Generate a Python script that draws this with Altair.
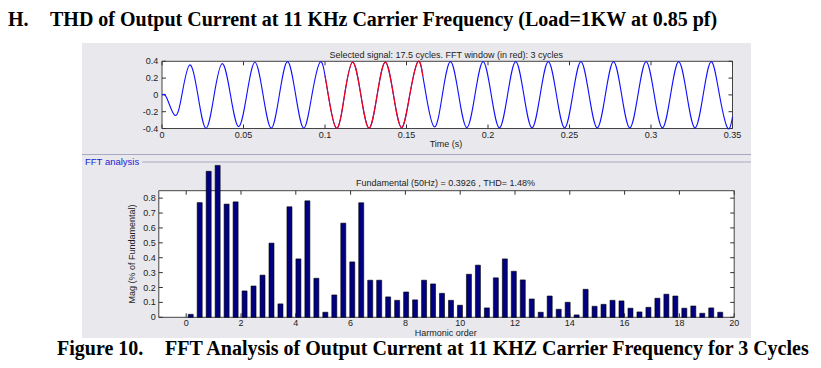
import altair as alt
import pandas as pd

# ---------------- text ----------------
TITLE_NO = "H."
TITLE = "THD of Output Current at 11 KHz Carrier Frequency (Load=1KW at 0.85 pf)"
CAPTION_NO = "Figure 10."
CAPTION = "FFT Analysis of Output Current at 11 KHZ Carrier Frequency for 3 Cycles"
SIG_TITLE = "Selected signal: 17.5 cycles. FFT window (in red): 3 cycles"
FFT_TITLE = "Fundamental (50Hz) = 0.3926 , THD= 1.48%"
SECTION = "FFT analysis"
TIME_TITLE = "Time (s)"
HARM_TITLE = "Harmonic order"
MAG_TITLE = "Mag (% of Fundamental)"

# ---------------- signal (start, extrema, zero crossings) ----------------
time_s = [0.000, 0.003, 0.008, 0.0122, 0.017, 0.022, 0.027, 0.032, 0.037, 0.042,
          0.047, 0.052, 0.057, 0.062, 0.067, 0.072, 0.077, 0.082, 0.087, 0.092,
          0.097, 0.100, 0.102, 0.107, 0.112, 0.117, 0.122, 0.127, 0.132, 0.137,
          0.142, 0.147, 0.152, 0.157, 0.160, 0.162, 0.167, 0.172, 0.177, 0.182,
          0.187, 0.192, 0.197, 0.202, 0.207, 0.212, 0.217, 0.222, 0.227, 0.232,
          0.237, 0.242, 0.247, 0.252, 0.257, 0.262, 0.267, 0.272, 0.277, 0.282,
          0.287, 0.292, 0.297, 0.302, 0.307, 0.312, 0.317, 0.322, 0.327, 0.332,
          0.337, 0.342, 0.347, 0.350]
current = [0.0, -0.04, -0.245, 0.0, 0.357, 0.0, -0.397, 0.0, 0.372, 0.0,
           -0.378, 0.0, 0.388, 0.0, -0.396, 0.0, 0.396, 0.0, -0.396, 0.0,
           0.39, 0.23, 0.0, -0.396, 0.0, 0.39, 0.0, -0.396, 0.0, 0.39,
           0.0, -0.39, 0.0, 0.396, 0.23, 0.0, -0.38, 0.0, 0.396, 0.0,
           -0.39, 0.0, 0.396, 0.0, -0.392, 0.0, 0.396, 0.0, -0.392, 0.0,
           0.396, 0.0, -0.392, 0.0, 0.396, 0.0, -0.392, 0.0, 0.396, 0.0,
           -0.392, 0.0, 0.396, 0.0, -0.392, 0.0, 0.396, 0.0, -0.392, 0.0,
           0.396, 0.0, -0.395, -0.26]
fft_window = [0.10, 0.16]

# ---------------- spectrum ----------------
harmonic = [0, 0.333, 0.667, 1, 1.333, 1.667, 2, 2.333, 2.667, 3,
            3.333, 3.667, 4, 4.333, 4.667, 5, 5.333, 5.667, 6, 6.333,
            6.667, 7, 7.333, 7.667, 8, 8.333, 8.667, 9, 9.333, 9.667,
            10, 10.333, 10.667, 11, 11.333, 11.667, 12, 12.333, 12.667, 13,
            13.333, 13.667, 14, 14.333, 14.667, 15, 15.333, 15.667, 16, 16.333,
            16.667, 17, 17.333, 17.667, 18, 18.333, 18.667, 19, 19.333, 19.667]
mag = [0.02, 0.77, 0.98, 1.02, 0.76, 0.775, 0.177, 0.21, 0.283, 0.498,
       0.09, 0.742, 0.392, 0.782, 0.262, 0.034, 0.15, 0.632, 0.372, 0.769,
       0.249, 0.249, 0.137, 0.114, 0.17, 0.117, 0.249, 0.224, 0.161, 0.114,
       0.081, 0.289, 0.35, 0.063, 0.265, 0.392, 0.309, 0.251, 0.123, 0.034,
       0.143, 0.054, 0.101, 0.016, 0.188, 0.074, 0.087, 0.114, 0.11, 0.061,
       0.036, 0.067, 0.128, 0.155, 0.143, 0.061, 0.076, 0.027, 0.063, 0.034]

# ---------------- ticks ----------------
time_ticks = [0, 0.05, 0.1, 0.15, 0.2, 0.25, 0.3, 0.35]
time_labels = ["0", "0.05", "0.1", "0.15", "0.2", "0.25", "0.3", "0.35"]
amp_ticks = [-0.4, -0.2, 0, 0.2, 0.4]
amp_labels = ["-0.4", "-0.2", "0", "0.2", "0.4"]
harm_ticks = [0, 2, 4, 6, 8, 10, 12, 14, 16, 18, 20]
harm_labels = ["0", "2", "4", "6", "8", "10", "12", "14", "16", "18", "20"]
mag_ticks = [0, 0.1, 0.2, 0.3, 0.4, 0.5, 0.6, 0.7, 0.8]
mag_labels = ["0", "0.1", "0.2", "0.3", "0.4", "0.5", "0.6", "0.7", "0.8"]

# ---------------- layout (canvas pixels) ----------------
W, H = 805, 352
T_X0, T_X1, T_YB, T_YT = 154, 724.5, 120.5, 53.3
F_X0, F_X1, F_YB, F_YT = 150.8, 726.2, 309.3, 182.7
TICK = 4
SANS = "Liberation Sans"
SERIF = "Liberation Serif"
LBL = "#222222"

TX = alt.Scale(domain=[0, 0.35], range=[T_X0, T_X1], nice=False, zero=False)
TY = alt.Scale(domain=[-0.4, 0.4], range=[T_YB, T_YT], nice=False, zero=False)
FX = alt.Scale(domain=[-1, 20], range=[F_X0, F_X1], nice=False, zero=False)
FY = alt.Scale(domain=[0, 0.85], range=[F_YB, F_YT], nice=False, zero=False)

one = pd.DataFrame({"a": [0]})
sig = pd.DataFrame({"t": time_s, "v": current})
spec = pd.DataFrame({"h": harmonic, "m": mag, "base": [0] * len(mag)})
tt = pd.DataFrame({"v": time_ticks, "lab": time_labels})
at = pd.DataFrame({"v": amp_ticks, "lab": amp_labels})
ht = pd.DataFrame({"v": harm_ticks, "lab": harm_labels})
mt = pd.DataFrame({"v": mag_ticks, "lab": mag_labels})


def txt(s, x, y, size=9, font=SANS, color=LBL, align="center", weight="normal", angle=0):
    return alt.Chart(one).mark_text(
        text=s, font=font, fontSize=size, color=color, align=align,
        baseline="middle" if weight == "normal" else "alphabetic",
        fontWeight=weight, angle=angle,
    ).encode(x=alt.value(x), y=alt.value(y))


layers = []

# grey GUI background
layers.append(alt.Chart(one).mark_rect(fill="#e9e9ed").encode(
    x=alt.value(74), x2=alt.value(743), y=alt.value(35), y2=alt.value(330)))
# separator lines
layers.append(alt.Chart(one).mark_rule(color="#a8a8c2", strokeWidth=1).encode(
    x=alt.value(74), x2=alt.value(743), y=alt.value(146.5)))
layers.append(alt.Chart(one).mark_rule(color="#a8a8c2", strokeWidth=1).encode(
    x=alt.value(134), x2=alt.value(743), y=alt.value(154)))
layers.append(txt(SECTION, 77, 154, size=9.5, color="#1c1cd8", align="left"))

# plot frames
tf = pd.DataFrame({"x0": [0], "x1": [0.35], "y0": [-0.4], "y1": [0.4]})
layers.append(alt.Chart(tf).mark_rect(fill="white", stroke="#444444", strokeWidth=1).encode(
    x=alt.X("x0:Q", scale=TX, axis=None), x2="x1:Q",
    y=alt.Y("y0:Q", scale=TY, axis=None), y2="y1:Q"))
ff = pd.DataFrame({"x0": [-1], "x1": [20], "y0": [0], "y1": [0.85]})
layers.append(alt.Chart(ff).mark_rect(fill="white", stroke="#444444", strokeWidth=1).encode(
    x=alt.X("x0:Q", scale=FX, axis=None), x2="x1:Q",
    y=alt.Y("y0:Q", scale=FY, axis=None), y2="y1:Q"))

# ---- top panel ticks (inward) and labels
for yb, yt in [(T_YB, T_YB - TICK), (T_YT, T_YT + TICK)]:
    layers.append(alt.Chart(tt).mark_rule(color="#333333").encode(
        x=alt.X("v:Q", scale=TX, axis=None), y=alt.value(yb), y2=alt.value(yt)))
for xa, xb in [(T_X0, T_X0 + TICK), (T_X1, T_X1 - TICK)]:
    layers.append(alt.Chart(at).mark_rule(color="#333333").encode(
        y=alt.Y("v:Q", scale=TY, axis=None), x=alt.value(xa), x2=alt.value(xb)))
layers.append(alt.Chart(tt).mark_text(font=SANS, fontSize=9, color=LBL, baseline="middle").encode(
    x=alt.X("v:Q", scale=TX, axis=None), y=alt.value(127), text="lab:N"))
layers.append(alt.Chart(at).mark_text(font=SANS, fontSize=9, color=LBL, align="right",
                                      baseline="middle").encode(
    y=alt.Y("v:Q", scale=TY, axis=None), x=alt.value(150.3), text="lab:N"))

# signal
layers.append(alt.Chart(sig).mark_line(color="#1010ff", strokeWidth=1.1, interpolate="natural").encode(
    x=alt.X("t:Q", scale=TX, axis=None), y=alt.Y("v:Q", scale=TY, axis=None)))
layers.append(alt.Chart(sig).transform_filter(
    alt.FieldRangePredicate(field="t", range=fft_window)
).mark_line(color="#ff0000", strokeWidth=1.1, interpolate="natural").encode(
    x=alt.X("t:Q", scale=TX, axis=None), y=alt.Y("v:Q", scale=TY, axis=None)))

layers.append(txt(SIG_TITLE, 438.2, 46.7, size=9))
layers.append(txt(TIME_TITLE, 438, 136, size=9))

# ---- bottom panel ticks and labels
for yb, yt in [(F_YB, F_YB - TICK), (F_YT, F_YT + TICK)]:
    layers.append(alt.Chart(ht).mark_rule(color="#333333").encode(
        x=alt.X("v:Q", scale=FX, axis=None), y=alt.value(yb), y2=alt.value(yt)))
for xa, xb in [(F_X0, F_X0 + TICK), (F_X1, F_X1 - TICK)]:
    layers.append(alt.Chart(mt).mark_rule(color="#333333").encode(
        y=alt.Y("v:Q", scale=FY, axis=None), x=alt.value(xa), x2=alt.value(xb)))
layers.append(alt.Chart(ht).mark_text(font=SANS, fontSize=9, color=LBL, baseline="middle").encode(
    x=alt.X("v:Q", scale=FX, axis=None), y=alt.value(315.3), text="lab:N"))
layers.append(alt.Chart(mt).mark_text(font=SANS, fontSize=9, color=LBL, align="right",
                                      baseline="middle").encode(
    y=alt.Y("v:Q", scale=FY, axis=None), x=alt.value(147.7), text="lab:N"))

# spectrum bars
layers.append(alt.Chart(spec).mark_bar(orient="vertical", size=5, fill="#000080",
                                       stroke="#000000", strokeWidth=0.6).encode(
    x=alt.X("h:Q", scale=FX, axis=None),
    y=alt.Y("m:Q", scale=FY, axis=None), y2="base:Q"))

layers.append(txt(FFT_TITLE, 437.5, 174.7, size=9))
layers.append(txt(HARM_TITLE, 437.7, 324.5, size=9))
layers.append(txt(MAG_TITLE, 123.7, 246, size=9, angle=270))

# ---- page title and caption
layers.append(txt(TITLE_NO, 0, 18, size=20, font=SERIF, color="#000000", align="left", weight="bold"))
layers.append(txt(TITLE, 42, 18, size=20, font=SERIF, color="#000000", align="left", weight="bold"))
layers.append(txt(CAPTION_NO, 49, 346.5, size=20, font=SERIF, color="#000000", align="left", weight="bold"))
layers.append(txt(CAPTION, 157, 346.5, size=20, font=SERIF, color="#000000", align="left", weight="bold"))

chart = alt.layer(*layers).resolve_scale(x="independent", y="independent").properties(
    width=W, height=H, autosize=alt.AutoSizeParams(type="none"), padding=0, background="white"
).configure_view(stroke=None)

chart.save("out.html", embed_options={"renderer": "svg", "actions": False})
